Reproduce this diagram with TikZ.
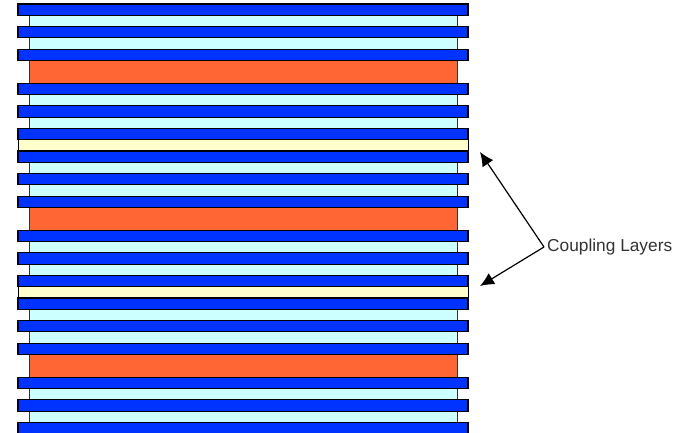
\documentclass[tikz,border=0pt]{standalone}
\usepackage{fontspec}
\setmainfont{Liberation Sans}
\usetikzlibrary{arrows.meta}
\definecolor{layblue}{HTML}{0033FF}
\definecolor{laycyan}{HTML}{CCFFFF}
\definecolor{layorange}{HTML}{FF6633}
\definecolor{layyellow}{HTML}{FFFFCC}
\tikzset{
  bluelayer/.style={fill=layblue,draw=black,line width=1.1pt},
  cyanlayer/.style={fill=laycyan,draw=black!80,line width=0.9pt},
  orangelayer/.style={fill=layorange,draw=black!80,line width=0.9pt},
  yellowlayer/.style={fill=layyellow,draw=black,line width=0.9pt},
  pointer/.style={draw=black,line width=1.2pt,-{Latex[length=14pt,width=13pt]}},
  lbl/.style={font=\fontsize{17.3}{20}\selectfont,text=black!80,inner sep=3pt,anchor=west}
}
\begin{document}
\begin{tikzpicture}[x=1pt,y=-1pt]
\useasboundingbox (0,0) rectangle (681,433);
\begin{scope}
\clip (0,0) rectangle (681,433);
\def\u{11.3077}
\foreach \p in {0,1,2}{
  \foreach \k in {1,3,8,10}{
    \path[cyanlayer] (29,{4+(13*\p+\k)*\u}) rectangle (457,{4+(13*\p+\k+1)*\u});
  }
  \path[orangelayer] (29,{4+(13*\p+5)*\u}) rectangle (457,{4+(13*\p+7)*\u});
  \foreach \k in {0,2,4,7,9,11}{
    \path[bluelayer] (18,{4+(13*\p+\k)*\u}) rectangle (468,{4+(13*\p+\k+1)*\u});
  }
  \path[yellowlayer] (18,{4+(13*\p+12)*\u}) rectangle (468,{4+(13*\p+13)*\u});
}
\end{scope}
\coordinate (tipA) at (480,152);
\coordinate (tipB) at (480,286);
\node[lbl] (label) at (544,247) {Coupling Layers};
\draw[pointer] (label.west) -- (tipA);
\draw[pointer] (label.west) -- (tipB);
\end{tikzpicture}
\end{document}
